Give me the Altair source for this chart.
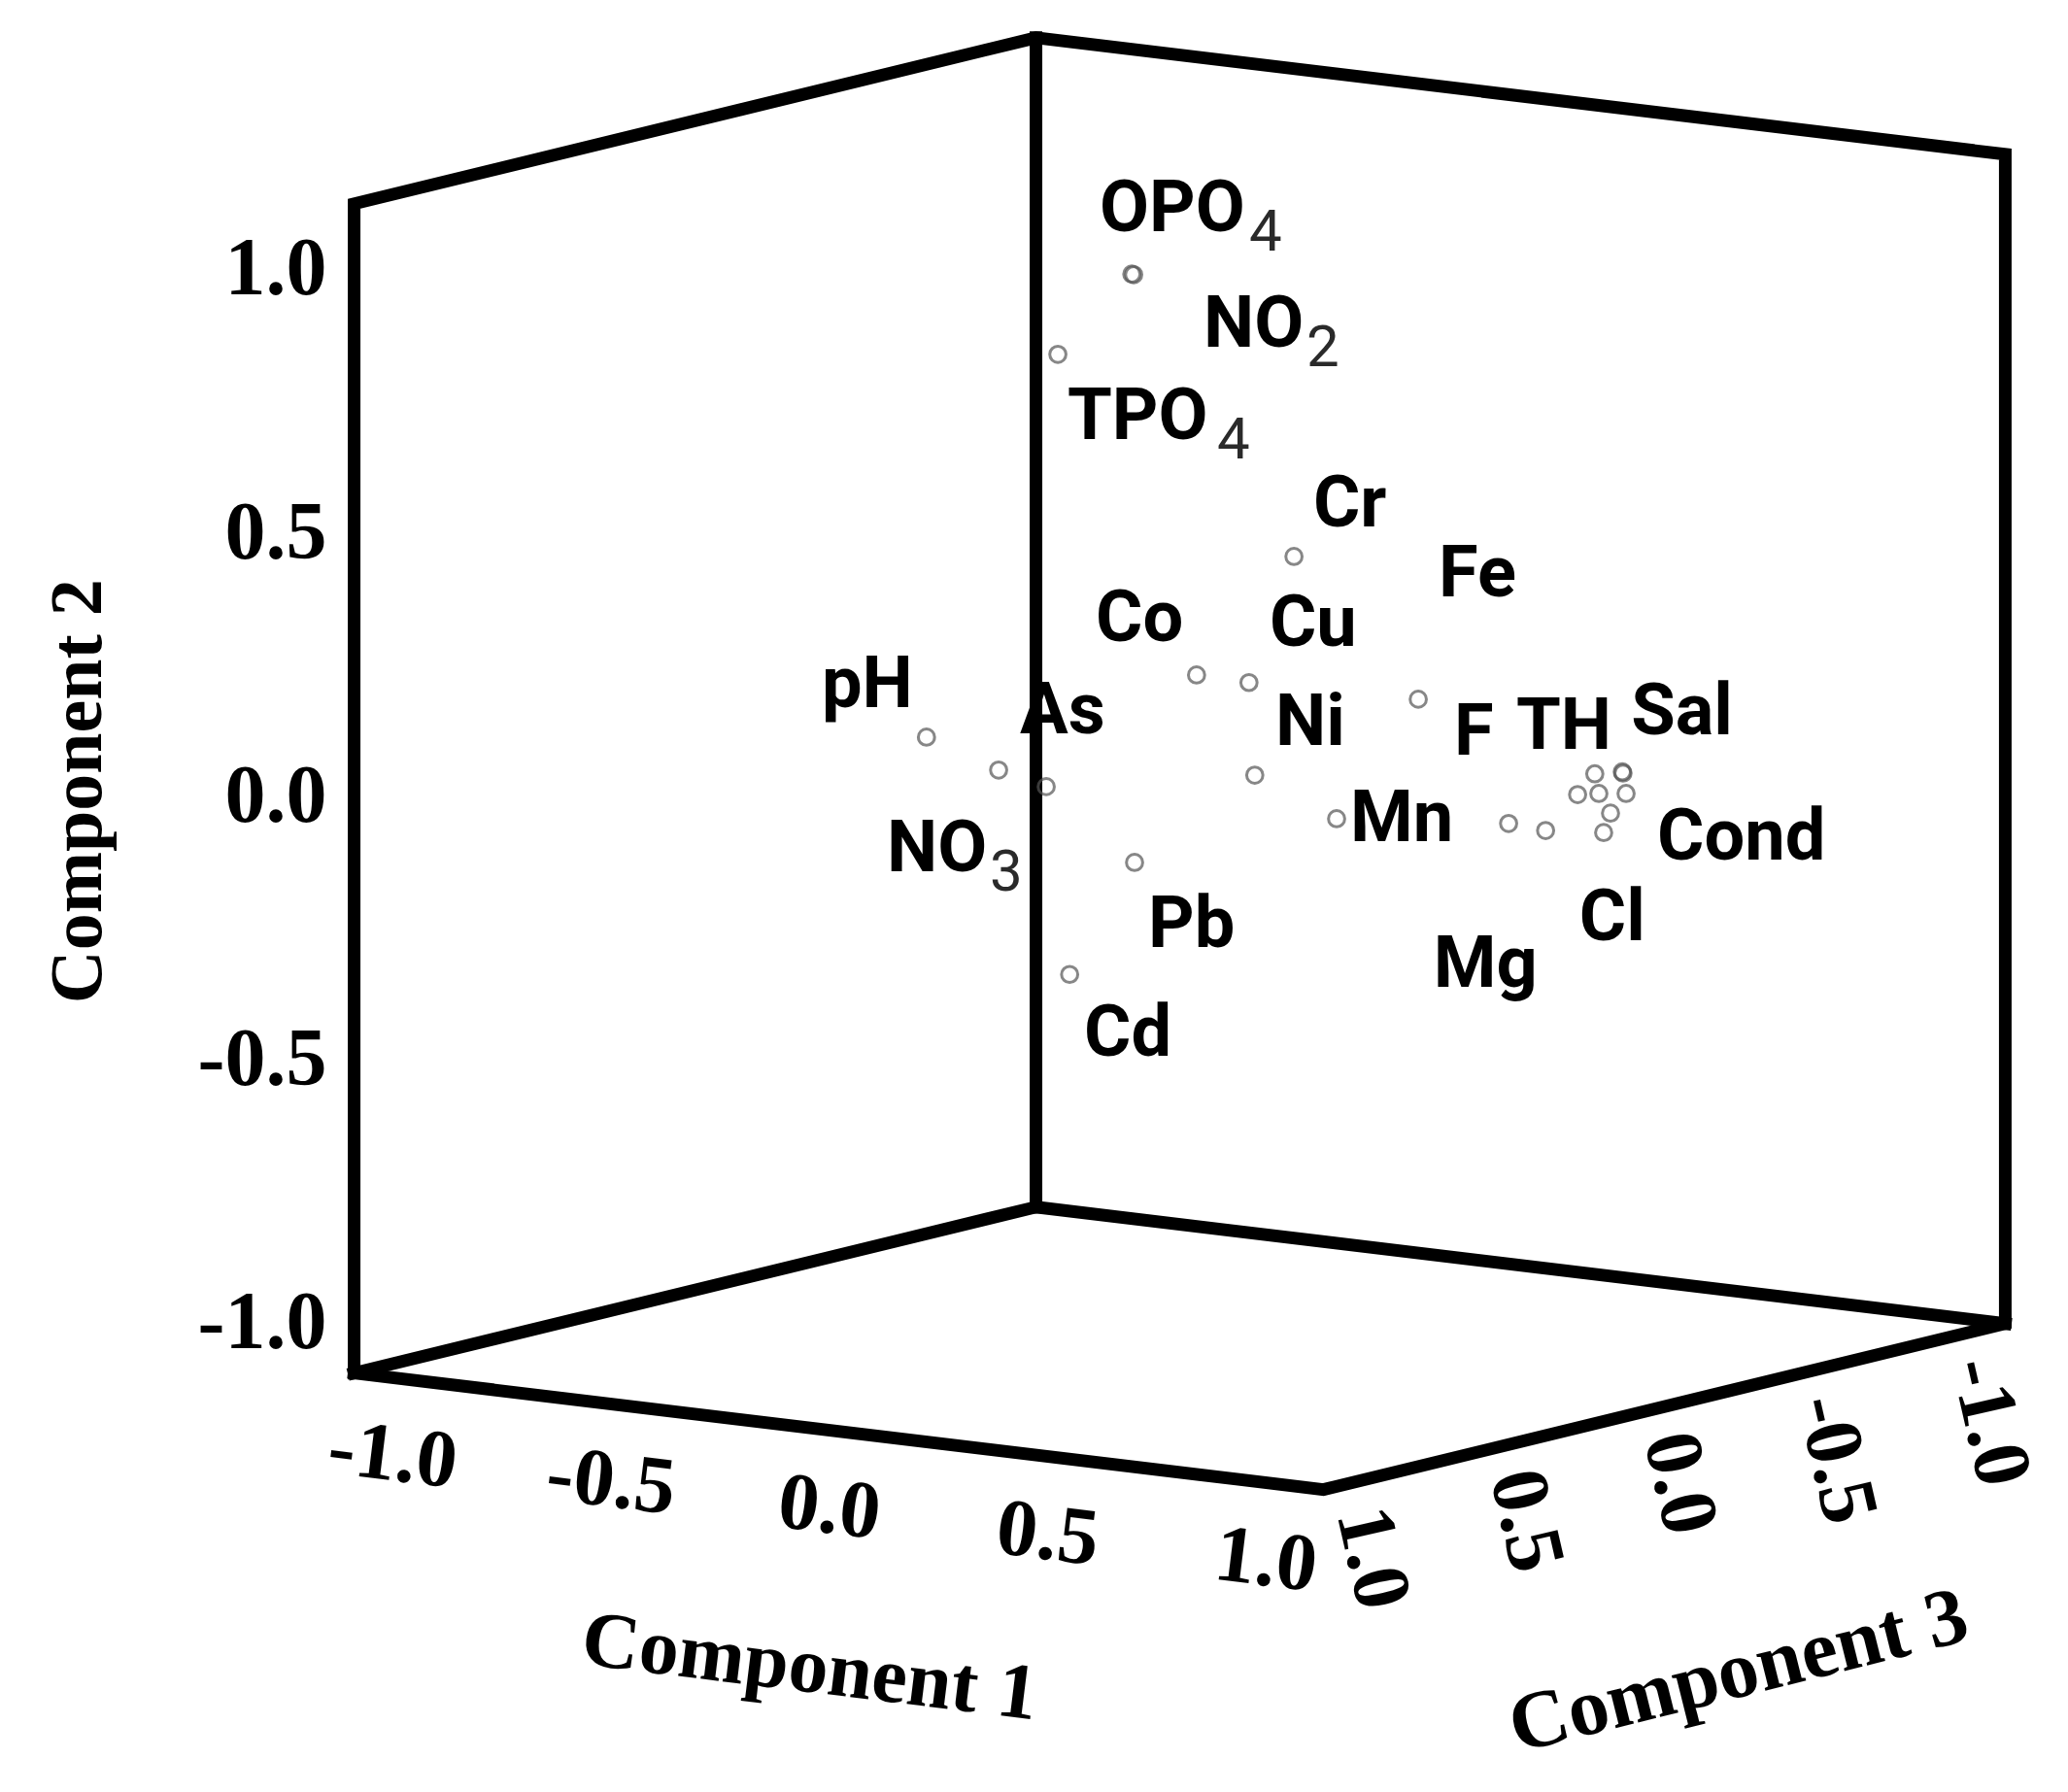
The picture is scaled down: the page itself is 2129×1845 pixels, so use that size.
import altair as alt
import pandas as pd

# ---------------- data: loadings ----------------
variables = ["OPO4", "NO2", "TPO4", "Cr", "Co", "Cu", "pH", "NO3", "As", "Ni",
             "Mn", "Pb", "Cd", "F", "Mg", "Fe", "TH", "Sal", "Cond", "Cl"]
label_main = ["OPO", "NO", "TPO", "Cr", "Co", "Cu", "pH", "NO", "As", "Ni",
              "Mn", "Pb", "Cd", "F", "Mg", "Fe", "TH", "Sal", "Cond", "Cl"]
label_sub = ["4", "2", "4", "", "", "", "", "3", "", "",
             "", "", "", "", "", "", "", "", "", ""]
comp1 = [0.031, -0.035, -0.068, 0.121, 0.320, 0.229, -0.791, -0.274, 0.046, 0.383,
         0.289, 0.178, 0.170, 0.265, 0.894, 0.627, 0.810, 0.873, 0.952, 0.971]
comp2 = [0.961, 0.939, 0.813, 0.377, 0.257, 0.191, -0.071, -0.011, 0.032, 0.059,
         -0.090, -0.113, -0.298, 0.092, 0.004, -0.107, 0.033, 0.043, 0.024, -0.034]
comp3 = [0.2, 0.1, 0.3, -0.2, 0.4, 0.1, -0.3, 0.2, 0.5, 0.3,
         -0.1, 0.4, 0.6, -0.4, 0.2, -0.3, -0.2, -0.2, -0.1, 0.0]
# anchor of each variable's label, in the same component space
label_comp1 = [-0.043, 0.125, -0.046, 0.165, 0.089, 0.276, -1.031, -0.530, -0.014, 0.430,
               0.320, 0.209, 0.203, 0.347, 0.722, 0.382, 0.630, 0.893, 1.023, 0.915]
label_comp2 = [1.035, 0.818, 0.654, 0.438, 0.298, 0.265, -0.038, -0.229, 0.127, 0.121,
               -0.129, -0.270, -0.449, -0.005, -0.323, 0.313, 0.063, 0.116, -0.094, -0.244]
# markers in the dense cluster whose labels are hidden
extra_comp1 = [0.945, 0.841, 0.960, 0.846]
extra_comp2 = [0.062, 0.011, 0.039, -0.038]
extra_comp3 = [-0.1, -0.1, 0.0, -0.2]

tick_values = [-1.0, -0.5, 0.0, 0.5, 1.0]
tick_labels = ["-1.0", "-0.5", "0.0", "0.5", "1.0"]
axis_titles = ["Component 1", "Component 2", "Component 3"]

# ---------------- projection / layout ----------------
L = 1.11                      # half size of the box
A1, A3 = 0.82888, -0.58307    # screen-x per unit of comp1, comp3
B1, B3 = -0.09967, -0.14199   # screen-y per unit of comp1, comp3
PXU = 542.3                   # pixels per unit
W, H = 2113, 1820
XMIN = -1206.5 / PXU
XMAX = XMIN + W / PXU
YMAX = 778.25 / PXU
YMIN = YMAX - H / PXU
XS = alt.Scale(domain=[XMIN, XMAX], nice=False, zero=False)
YS = alt.Scale(domain=[YMIN, YMAX], nice=False, zero=False)
CHAR_W = 48 / PXU
SUB_GAP = 10 / PXU
SUB_DY = 20


def proj(ch, c1="c1", c2="c2", c3="c3"):
    return ch.transform_calculate(
        px=f"datum.{c1}*{A1} + datum.{c3}*{A3}",
        py=f"datum.{c2} + datum.{c1}*{B1} + datum.{c3}*{B3}",
    )


def xy(xf="px", yf="py"):
    return dict(x=alt.X(f"{xf}:Q", scale=XS, axis=None),
                y=alt.Y(f"{yf}:Q", scale=YS, axis=None))


# box
box_paths = [
    [(-1, -1, 1), (-1, 1, 1), (-1, 1, -1), (1, 1, -1), (1, -1, -1), (1, -1, 1), (-1, -1, 1)],
    [(-1, -1, -1), (-1, -1, 1)],
    [(-1, -1, -1), (-1, 1, -1)],
    [(-1, -1, -1), (1, -1, -1)],
]
box_rows = []
for pid, path in enumerate(box_paths):
    for k, (s1, s2, s3) in enumerate(path):
        box_rows.append({"path": pid, "ord": k, "c1": s1 * L, "c2": s2 * L, "c3": s3 * L})
box_df = pd.DataFrame(box_rows)

pts_df = pd.DataFrame({"c1": comp1 + extra_comp1, "c2": comp2 + extra_comp2,
                       "c3": comp3 + extra_comp3})
lab_df = pd.DataFrame({"name": variables, "main": label_main, "sub": label_sub,
                       "lc1": label_comp1, "lc2": label_comp2, "c3": comp3})

axis_rows = []
for v, t in zip(tick_values, tick_labels):
    axis_rows.append({"kind": "t2", "c1": -L, "c2": v, "c3": L, "text": t})
    axis_rows.append({"kind": "t1", "c1": v, "c2": -L, "c3": L, "text": t})
    axis_rows.append({"kind": "t3", "c1": L, "c2": -L, "c3": v, "text": t})
axis_rows.append({"kind": "a1", "c1": 0.0, "c2": -L, "c3": L, "text": axis_titles[0]})
axis_rows.append({"kind": "a2", "c1": -L, "c2": 0.0, "c3": L, "text": axis_titles[1]})
axis_rows.append({"kind": "a3", "c1": L, "c2": -L, "c3": 0.0, "text": axis_titles[2]})
axis_df = pd.DataFrame(axis_rows)

edges = proj(alt.Chart(box_df).mark_line(
    color="black", strokeWidth=13, strokeJoin="miter", strokeCap="square"
)).encode(**xy(), detail="path:N", order="ord:Q")

points = proj(alt.Chart(pts_df).mark_point(
    shape="circle", filled=False, size=280, strokeWidth=3, color="#555555", opacity=0.7
)).encode(**xy())

labels = proj(alt.Chart(lab_df).mark_text(
    align="left", baseline="alphabetic", font="Roboto", fontWeight="bold",
    fontSize=74, color="black"
), c1="lc1", c2="lc2").encode(**xy(), text="main:N")

subs = proj(alt.Chart(lab_df), c1="lc1", c2="lc2").transform_filter(
    "datum.sub != ''"
).transform_calculate(
    sx=f"datum.px + length(datum.main)*{CHAR_W} + {SUB_GAP}"
).mark_text(
    align="left", baseline="alphabetic", font="Roboto", fontWeight="normal",
    fontSize=60, color="#2a2a2a", dy=SUB_DY
).encode(**xy("sx", "py"), text="sub:N")

SERIF = "Liberation Serif"


def axis_layer(kind, **mk):
    return proj(alt.Chart(axis_df)).transform_filter(
        f"datum.kind == '{kind}'"
    ).mark_text(font=SERIF, fontWeight="bold", color="black", baseline="middle", **mk
                ).encode(**xy(), text="text:N")


t2 = axis_layer("t2", align="right", dx=-28, dy=9, fontSize=84)
t1 = axis_layer("t1", align="center", angle=7, dy=80, fontSize=84)
t3 = axis_layer("t3", align="left", angle=77, dx=28, dy=3, fontSize=84)
a1 = axis_layer("a1", align="center", angle=7, dy=245, fontSize=82)
a2 = axis_layer("a2", align="center", angle=270, dx=-3, dy=-284, fontSize=76)
a3 = axis_layer("a3", align="center", angle=346, dx=8, dy=284, fontSize=84)

chart = alt.layer(edges, points, labels, subs, t2, t1, t3, a1, a2, a3).properties(
    width=W, height=H, padding=0, autosize=alt.AutoSizeParams(type="none"),
    background="white"
).configure_view(stroke="transparent")

chart.save("out.html", embed_options={"renderer": "svg", "actions": False})
